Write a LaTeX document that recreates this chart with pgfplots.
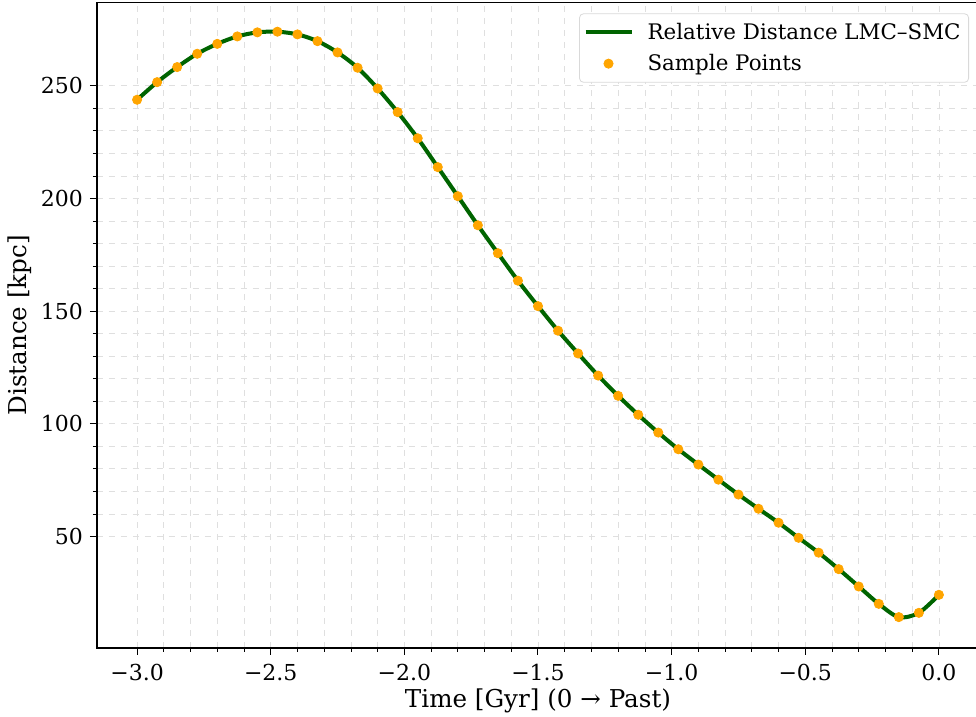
\documentclass[border=0pt]{standalone}
\usepackage{fontspec}
\setmainfont{DejaVu Serif}
\usepackage{pgfplots}
\usepackage{pgfplotstable}
\pgfplotsset{compat=1.18}
\definecolor{dgreen}{HTML}{006400}
\definecolor{orng}{HTML}{FFA500}
\pgfplotsset{
 lineleg/.style={legend image code/.code={\draw[##1] (0pt,0pt) -- (23pt,0pt);}},
 dotleg/.style={legend image code/.code={\draw[mark repeat=2,mark phase=2,##1] plot coordinates {(0pt,0pt) (11.5pt,0pt) (23pt,0pt)};}},
}

\pgfplotstableread{
x y
-3.000 243.8
-2.925 251.6
-2.850 258.3
-2.775 264.2
-2.700 268.6
-2.625 271.9
-2.550 273.7
-2.475 274.0
-2.400 272.8
-2.325 269.8
-2.250 264.8
-2.175 258.0
-2.100 248.8
-2.025 238.3
-1.950 226.7
-1.875 213.9
-1.800 201.0
-1.725 188.1
-1.650 175.7
-1.575 163.5
-1.500 152.2
-1.425 141.3
-1.350 131.2
-1.275 121.4
-1.200 112.4
-1.125 104.0
-1.050 96.1
-0.975 88.7
-0.900 81.9
-0.825 75.2
-0.750 68.6
-0.675 62.3
-0.600 56.1
-0.525 49.4
-0.450 42.8
-0.375 35.5
-0.300 27.8
-0.225 20.1
-0.150 14.2
-0.075 16.1
0.000 24.1
}\datatable

\begin{document}
\begin{tikzpicture}
\begin{axis}[
 at={(0,0)}, anchor=south west,
 scale only axis, width=441pt, height=322.8pt,
 xmin=-3.15, xmax=0.15, ymin=0.5, ymax=287,
 xtick={-3,-2.5,-2,-1.5,-1,-0.5,0},
 xticklabels={−3.0,−2.5,−2.0,−1.5,−1.0,−0.5,0.0},
 minor x tick num=4,
 ytick={50,100,150,200,250},
 yticklabels={50,100,150,200,250},
 minor y tick num=4,
 xtick pos=left, ytick pos=left,
 grid=both,
 major grid style={gray!25, dashed, line width=0.4pt},
 minor grid style={gray!25, dashed, line width=0.4pt},
 tick align=outside, major tick length=3.5pt, minor tick length=2pt,
 major tick style={black, line width=0.5pt},
 minor tick style={black, line width=0.4pt},
 axis line style={line width=0.6pt},
 ticklabel style={font=\fontsize{11}{13}\selectfont},
 xticklabel style={yshift=-1pt},
 xlabel={Time [Gyr] (0 → Past)},
 ylabel={Distance [kpc]},
 xlabel style={font=\fontsize{12.3}{14}\selectfont, at={(axis description cs:0.5,-0.0929)}, anchor=base},
 ylabel style={font=\fontsize{12.3}{14}\selectfont, at={(axis description cs:-0.0873,0.5)}, anchor=center},
 legend style={at={(0.9887,0.983)}, anchor=north east, draw=gray!30, rounded corners=2pt,
   fill=white, font=\fontsize{10.7}{12.5}\selectfont, row sep=2pt, column sep=5pt,
   inner xsep=2pt, inner ysep=2.5pt},
 legend cell align=left,
]
\addlegendimage{dgreen, line width=2pt, lineleg}
\addlegendentry{Relative Distance LMC–SMC}
\addlegendimage{only marks, mark=*, mark size=2.3pt, orng, mark options={draw=orng, fill=orng}, dotleg}
\addlegendentry{Sample Points}
\addplot[only marks, mark=*, mark size=2.3pt, draw=orng, fill=orng, forget plot] table[x=x,y=y] {\datatable};
\addplot[dgreen, line width=2pt, smooth, forget plot] table[x=x,y=y] {\datatable};
\end{axis}
\pgfresetboundingbox
\useasboundingbox (-48.5pt,-34.5pt) rectangle (439.5pt,324pt);
\end{tikzpicture}
\end{document}
